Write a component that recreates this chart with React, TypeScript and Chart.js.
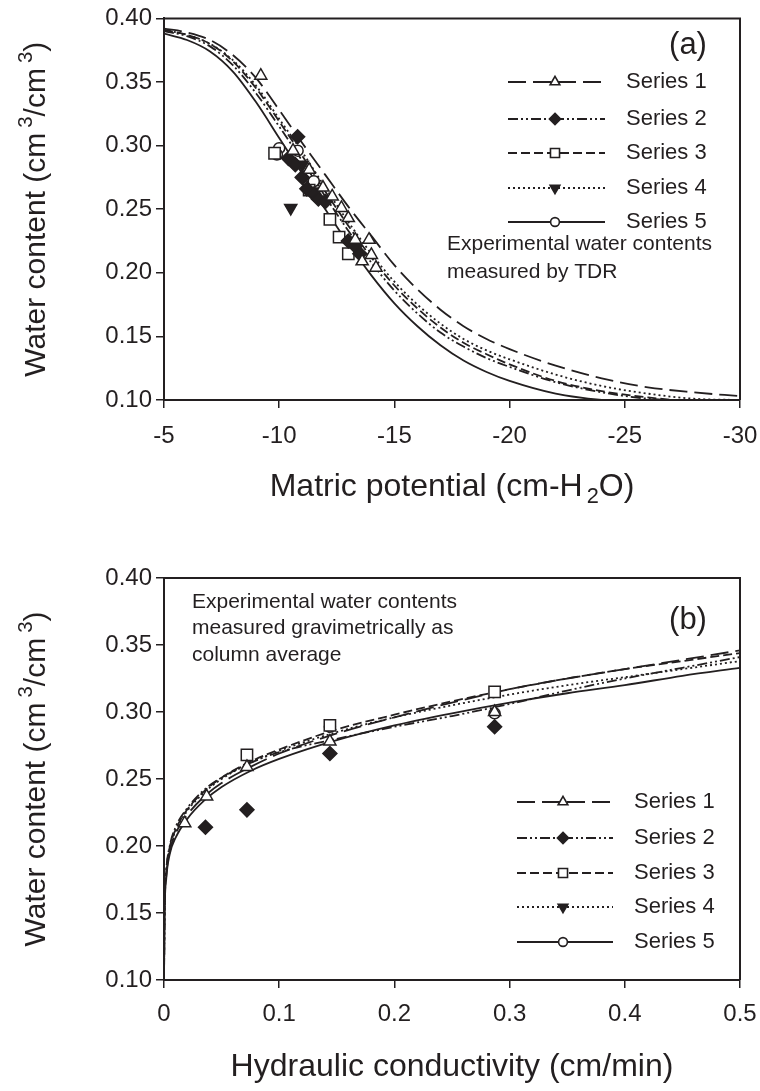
import React, { useEffect, useRef } from "react";
import { Chart, registerables } from "chart.js";

Chart.register(...registerables);

const FONT = "'Liberation Sans', Arial, Helvetica, sans-serif";
const INK = "#231f20";

const SERIES = ["Series 1", "Series 2", "Series 3", "Series 4", "Series 5"];

// ---------- Panel (a): water content vs matric potential ----------
const A_POTENTIAL = [-5, -6, -7, -8, -9, -10, -11, -12, -13, -14, -15, -16, -17, -18, -19, -20, -22, -24, -26, -28, -30];
const A_CURVE_S1 = [0.392, 0.389, 0.383, 0.371, 0.353, 0.328, 0.302, 0.277, 0.252, 0.229, 0.206, 0.187, 0.171, 0.158, 0.148, 0.140, 0.127, 0.117, 0.110, 0.106, 0.103];
const A_CURVE_S2 = [0.390, 0.386, 0.378, 0.363, 0.341, 0.315, 0.288, 0.260, 0.233, 0.208, 0.186, 0.168, 0.153, 0.142, 0.133, 0.126, 0.114, 0.106, 0.101, 0.099, 0.098];
const A_CURVE_S3 = [0.391, 0.387, 0.380, 0.366, 0.345, 0.319, 0.292, 0.264, 0.237, 0.212, 0.190, 0.172, 0.157, 0.145, 0.136, 0.128, 0.115, 0.107, 0.102, 0.099, 0.098];
const A_CURVE_S4 = [0.391, 0.387, 0.380, 0.367, 0.347, 0.321, 0.295, 0.267, 0.240, 0.215, 0.193, 0.175, 0.160, 0.148, 0.139, 0.132, 0.120, 0.111, 0.105, 0.101, 0.100];
const A_CURVE_S5 = [0.388, 0.383, 0.374, 0.358, 0.334, 0.306, 0.278, 0.250, 0.223, 0.198, 0.176, 0.158, 0.143, 0.131, 0.122, 0.115, 0.105, 0.100, 0.098, 0.097, 0.097];

const A_PTS_S1_X = [-9.2, -10.6, -11.3, -11.9, -12.3, -12.7, -13.0, -13.3, -13.6, -13.9, -14.2, -14.0];
const A_PTS_S1_Y = [0.355, 0.296, 0.281, 0.267, 0.260, 0.251, 0.243, 0.226, 0.209, 0.226, 0.204, 0.214];
const A_PTS_S2_X = [-10.8, -10.4, -10.7, -11.0, -11.2, -11.5, -11.7, -12.0, -13.0, -13.3, -13.5];
const A_PTS_S2_Y = [0.307, 0.290, 0.285, 0.275, 0.266, 0.262, 0.258, 0.256, 0.225, 0.221, 0.215];
const A_PTS_S3_X = [-9.8, -11.3, -12.2, -12.6, -13.0];
const A_PTS_S3_Y = [0.294, 0.265, 0.242, 0.228, 0.215];
const A_PTS_S4_X = [-10.5, -11.0, -11.6];
const A_PTS_S4_Y = [0.251, 0.285, 0.264];
const A_PTS_S5_X = [-10.0, -9.9, -10.8, -11.5];
const A_PTS_S5_Y = [0.298, 0.293, 0.296, 0.272];

// ---------- Panel (b): water content vs hydraulic conductivity ----------
const B_CONDUCTIVITY = [0, 0.0005, 0.002, 0.005, 0.01, 0.02, 0.035, 0.05, 0.075, 0.1, 0.15, 0.2, 0.25, 0.3, 0.35, 0.4, 0.45, 0.5];
const B_CURVE_S1 = [0.100, 0.150, 0.178, 0.196, 0.209, 0.223, 0.237, 0.247, 0.259, 0.269, 0.284, 0.296, 0.307, 0.317, 0.325, 0.332, 0.339, 0.346];
const B_CURVE_S2 = [0.100, 0.152, 0.182, 0.200, 0.214, 0.228, 0.242, 0.251, 0.262, 0.270, 0.280, 0.289, 0.297, 0.306, 0.316, 0.325, 0.333, 0.341];
const B_CURVE_S3 = [0.100, 0.152, 0.181, 0.199, 0.212, 0.227, 0.241, 0.251, 0.263, 0.272, 0.287, 0.298, 0.308, 0.317, 0.325, 0.332, 0.338, 0.344];
const B_CURVE_S4 = [0.100, 0.151, 0.180, 0.198, 0.211, 0.226, 0.240, 0.250, 0.262, 0.271, 0.285, 0.296, 0.305, 0.313, 0.320, 0.326, 0.332, 0.338];
const B_CURVE_S5 = [0.100, 0.148, 0.176, 0.194, 0.206, 0.220, 0.234, 0.244, 0.256, 0.265, 0.279, 0.290, 0.299, 0.307, 0.314, 0.320, 0.327, 0.333];

const B_PTS_S1_X = [0.018, 0.037, 0.072, 0.144, 0.287];
const B_PTS_S1_Y = [0.217, 0.237, 0.259, 0.278, 0.300];
const B_PTS_S2_X = [0.036, 0.072, 0.144, 0.287];
const B_PTS_S2_Y = [0.214, 0.227, 0.269, 0.289];
const B_PTS_S3_X = [0.072, 0.144, 0.287];
const B_PTS_S3_Y = [0.268, 0.290, 0.315];
const B_PTS_S4_X: number[] = [];
const B_PTS_S4_Y: number[] = [];
const B_PTS_S5_X = [0.144, 0.287];
const B_PTS_S5_Y = [0.289, 0.299];

const Y_TICK_MIN = 0.1;
const Y_TICK_MAX = 0.4;
const Y_TICK_STEP = 0.05;
const A_X_MIN = -30;
const A_X_MAX = -5;
const A_X_STEP = 5;
const B_X_MIN = 0;
const B_X_MAX = 0.5;
const B_X_STEP = 0.1;

// ---------- styles ----------
const DASHES: number[][] = [[18, 7], [10, 3, 2, 3, 2, 3], [9, 4], [2, 3], []];
const MARKS = [
  { style: "triangle", rot: 0, fill: "#ffffff", r: 7 },
  { style: "rectRot", rot: 0, fill: INK, r: 7 },
  { style: "rect", rot: 0, fill: "#ffffff", r: 8 },
  { style: "triangle", rot: 180, fill: INK, r: 7 },
  { style: "circle", rot: 0, fill: "#ffffff", r: 5.5 },
];

type Seg = { t: string; kind?: "sup" | "sub"; gap?: number };

function drawRich(ctx: CanvasRenderingContext2D, segs: Seg[], cx: number, cy: number, size: number, vertical: boolean) {
  ctx.save();
  ctx.translate(cx, cy);
  if (vertical) ctx.rotate(-Math.PI / 2);
  ctx.fillStyle = INK;
  ctx.textBaseline = "alphabetic";
  ctx.textAlign = "left";
  const parts = segs.map((s) => {
    const sz = s.kind ? size * 0.68 : size;
    ctx.font = `${sz}px ${FONT}`;
    return { s, sz, w: ctx.measureText(s.t).width, g: s.gap || 0 };
  });
  const total = parts.reduce((a, p) => a + p.w + p.g, 0);
  let x = -total / 2;
  const base = size * 0.36;
  for (const p of parts) {
    x += p.g;
    ctx.font = `${p.sz}px ${FONT}`;
    const dy = p.s.kind === "sup" ? -size * 0.42 : p.s.kind === "sub" ? size * 0.22 : 0;
    ctx.fillText(p.s.t, x, base + dy);
    x += p.w;
  }
  ctx.restore();
}

function drawMarker(ctx: CanvasRenderingContext2D, i: number, x: number, y: number, scale: number) {
  const m = MARKS[i];
  const r = m.r * scale;
  ctx.save();
  ctx.beginPath();
  if (m.style === "triangle") {
    const dir = m.rot === 180 ? -1 : 1;
    const c = Math.cos(Math.PI / 6) * r;
    ctx.moveTo(x, y - dir * r);
    ctx.lineTo(x + c, y + dir * r / 2);
    ctx.lineTo(x - c, y + dir * r / 2);
    ctx.closePath();
  } else if (m.style === "rectRot") {
    ctx.moveTo(x, y - r);
    ctx.lineTo(x + r, y);
    ctx.lineTo(x, y + r);
    ctx.lineTo(x - r, y);
    ctx.closePath();
  } else if (m.style === "rect") {
    const h = r * Math.SQRT1_2;
    ctx.rect(x - h, y - h, 2 * h, 2 * h);
  } else {
    ctx.arc(x, y, r, 0, Math.PI * 2);
  }
  ctx.fillStyle = m.fill;
  ctx.fill();
  ctx.lineWidth = 1.6;
  ctx.strokeStyle = INK;
  ctx.stroke();
  ctx.restore();
}

type PanelDeco = {
  id: string;
  xTitle: Seg[];
  yTitle: Seg[];
  label: string;
  labelPos: [number, number];
  notes: string[];
  notesX: number;
  notesY: number[];
  legend: { x1: number; x2: number; xm: number; xt: number; rows: number[] };
};

function decoPlugin(d: PanelDeco) {
  return {
    id: d.id,
    afterDraw(chart: any) {
      const ctx: CanvasRenderingContext2D = chart.ctx;
      const a = chart.chartArea;
      ctx.save();
      ctx.strokeStyle = INK;
      ctx.lineWidth = 2;
      ctx.beginPath();
      ctx.moveTo(a.left - 1, a.top);
      ctx.lineTo(a.right, a.top);
      ctx.lineTo(a.right, a.bottom);
      ctx.stroke();
      ctx.restore();
      drawRich(ctx, d.xTitle, (a.left + a.right) / 2, a.bottom + 84, 32, false);
      drawRich(ctx, d.yTitle, 34, (a.top + a.bottom) / 2, 30, true);
      ctx.save();
      ctx.fillStyle = INK;
      ctx.font = `31px ${FONT}`;
      ctx.textAlign = "center";
      ctx.textBaseline = "middle";
      ctx.fillText(d.label, d.labelPos[0], d.labelPos[1]);
      ctx.font = `21px ${FONT}`;
      ctx.textAlign = "left";
      d.notes.forEach((t, i) => ctx.fillText(t, d.notesX, d.notesY[i]));
      ctx.restore();
      const L = d.legend;
      SERIES.forEach((name, i) => {
        const y = L.rows[i];
        ctx.save();
        ctx.strokeStyle = INK;
        ctx.lineWidth = 1.8;
        ctx.setLineDash(DASHES[i]);
        ctx.beginPath();
        ctx.moveTo(L.x1, y);
        ctx.lineTo(L.x2, y);
        ctx.stroke();
        ctx.restore();
        drawMarker(ctx, i, L.xm, y, 0.8);
        ctx.save();
        ctx.fillStyle = INK;
        ctx.font = `22px ${FONT}`;
        ctx.textAlign = "left";
        ctx.textBaseline = "middle";
        ctx.fillText(name, L.xt, y);
        ctx.restore();
      });
    },
  };
}

function buildDatasets(xs: number[], curves: number[][], ptsX: number[][], ptsY: number[][]) {
  const ds: any[] = [];
  ptsX.forEach((px, i) => {
    if (!px.length) return;
    ds.push({
      type: "scatter",
      label: SERIES[i] + " measured",
      data: px.map((x, j) => ({ x, y: ptsY[i][j] })),
      pointStyle: MARKS[i].style,
      rotation: MARKS[i].rot,
      pointRadius: MARKS[i].r,
      pointBackgroundColor: MARKS[i].fill,
      pointBorderColor: INK,
      pointBorderWidth: 1.5,
      showLine: false,
    });
  });
  curves.forEach((c, i) => {
    ds.push({
      type: "line",
      label: SERIES[i],
      data: xs.map((x, j) => ({ x, y: c[j] })),
      borderColor: INK,
      borderWidth: 1.8,
      borderDash: DASHES[i],
      pointRadius: 0,
      fill: false,
      cubicInterpolationMode: "monotone",
    });
  });
  return ds;
}

function axisCommon(afterFit: (s: any) => void) {
  return {
    type: "linear",
    grid: { display: true, drawOnChartArea: false, drawTicks: true, tickLength: 8, color: INK, lineWidth: 1.5 },
    border: { display: true, color: INK, width: 2 },
    afterFit,
  };
}

function buildConfig(height: number, plotTop: number, plotBottom: number, which: "a" | "b"): any {
  const tickFont = { family: FONT, size: 24 };
  const isA = which === "a";
  const datasets = isA
    ? buildDatasets(A_POTENTIAL, [A_CURVE_S1, A_CURVE_S2, A_CURVE_S3, A_CURVE_S4, A_CURVE_S5],
        [A_PTS_S1_X, A_PTS_S2_X, A_PTS_S3_X, A_PTS_S4_X, A_PTS_S5_X],
        [A_PTS_S1_Y, A_PTS_S2_Y, A_PTS_S3_Y, A_PTS_S4_Y, A_PTS_S5_Y])
    : buildDatasets(B_CONDUCTIVITY, [B_CURVE_S1, B_CURVE_S2, B_CURVE_S3, B_CURVE_S4, B_CURVE_S5],
        [B_PTS_S1_X, B_PTS_S2_X, B_PTS_S3_X, B_PTS_S4_X, B_PTS_S5_X],
        [B_PTS_S1_Y, B_PTS_S2_Y, B_PTS_S3_Y, B_PTS_S4_Y, B_PTS_S5_Y]);

  const deco: PanelDeco = isA
    ? {
        id: "decoA",
        xTitle: [{ t: "Matric potential (cm-H" }, { t: "2", kind: "sub", gap: 4 }, { t: "O)" }],
        yTitle: [{ t: "Water content (cm" }, { t: "3", kind: "sup", gap: 5 }, { t: "/cm" }, { t: "3", kind: "sup", gap: 5 }, { t: ")" }],
        label: "(a)",
        labelPos: [688, 45],
        notes: ["Experimental water contents", "measured by TDR"],
        notesX: 447,
        notesY: [244, 272],
        legend: { x1: 508, x2: 605, xm: 555, xt: 626, rows: [82, 119, 153, 188, 222] },
      }
    : {
        id: "decoB",
        xTitle: [{ t: "Hydraulic conductivity (cm/min)" }],
        yTitle: [{ t: "Water content (cm" }, { t: "3", kind: "sup", gap: 5 }, { t: "/cm" }, { t: "3", kind: "sup", gap: 5 }, { t: ")" }],
        label: "(b)",
        labelPos: [688, 75],
        notes: ["Experimental water contents", "measured gravimetrically as", "column average"],
        notesX: 192,
        notesY: [57, 83, 110],
        legend: { x1: 517, x2: 613, xm: 563, xt: 634, rows: [257, 293, 328, 362, 397] },
      };

  return {
    type: "scatter",
    data: { datasets },
    options: {
      responsive: false,
      animation: false,
      events: [],
      layout: { padding: { left: 0, right: 20, top: plotTop, bottom: 0 } },
      plugins: { legend: { display: false }, tooltip: { enabled: false }, title: { display: false } },
      scales: {
        x: {
          ...axisCommon((s: any) => {
            s.height = height - plotBottom;
            s.paddingLeft = 0;
            s.paddingRight = 0;
          }),
          min: isA ? A_X_MIN : B_X_MIN,
          max: isA ? A_X_MAX : B_X_MAX,
          reverse: isA,
          ticks: {
            stepSize: isA ? A_X_STEP : B_X_STEP,
            font: tickFont,
            color: INK,
            padding: isA ? 14 : 12,
            maxRotation: 0,
            autoSkip: false,
            callback: (v: any) => (isA ? String(Math.round(Number(v))) : Number(v) === 0 ? "0" : Number(v).toFixed(1)),
          },
        },
        y: {
          ...axisCommon((s: any) => { s.width = 164; }),
          min: Y_TICK_MIN,
          max: Y_TICK_MAX,
          ticks: {
            stepSize: Y_TICK_STEP,
            font: tickFont,
            color: INK,
            padding: 4,
            autoSkip: false,
            callback: (v: any) => Number(v).toFixed(2),
          },
        },
      },
    },
    plugins: [decoPlugin(deco)],
  };
}

function ChartCanvas(props: { top: number; height: number; plotTop: number; plotBottom: number; which: "a" | "b" }) {
  const ref = useRef<HTMLCanvasElement>(null);
  useEffect(() => {
    const chart = new Chart(ref.current as HTMLCanvasElement, buildConfig(props.height, props.plotTop, props.plotBottom, props.which));
    return () => chart.destroy();
  }, []);
  return (
    <canvas
      ref={ref}
      width={760}
      height={props.height}
      style={{ position: "absolute", left: 0, top: props.top, width: 760, height: props.height, display: "block" }}
    />
  );
}

export default function App() {
  useEffect(() => {
    document.body.style.margin = "0";
  }, []);
  return (
    <div style={{ position: "relative", width: 760, height: 1091, background: "#ffffff" }}>
      <ChartCanvas top={0} height={545} plotTop={17} plotBottom={400} which="a" />
      <ChartCanvas top={545} height={546} plotTop={33} plotBottom={435} which="b" />
    </div>
  );
}
